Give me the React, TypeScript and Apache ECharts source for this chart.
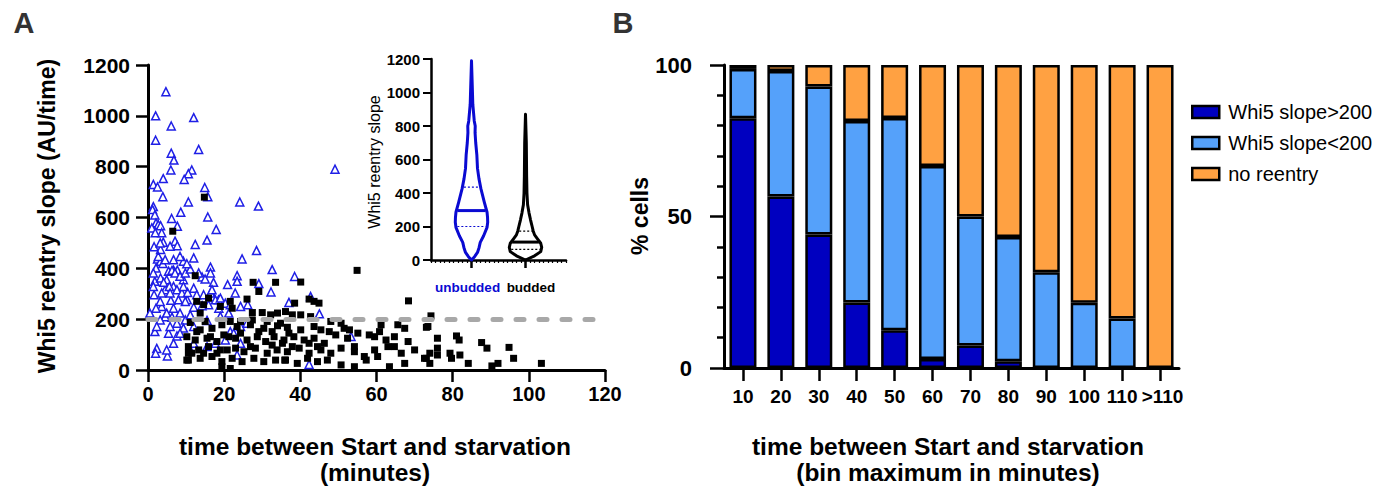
import React, { useEffect, useRef } from 'react';
import * as echarts from 'echarts';

const FONT = '"Liberation Sans", Arial, Helvetica, sans-serif';
const BLUE = '#1f1fe6';
const VIOLIN_BLUE = '#0a0ad2';

// ---- Panel A: scatter (minutes, slope) ----
const unbuddedPoints: [number, number][] = [
  [4.7,1095],[2.0,1000],[12.0,993],[6.1,960],[2.0,904],[13.3,868],[6.1,853],[6.8,826],[6.0,787],[11.5,787],
  [10.6,772],[9.5,750],[4.0,753],[1.4,730],[2.5,720],[14.9,718],[49.1,790],[15.7,682],[3.9,682],[24.1,661],
  [29.0,645],[10.6,661],[8.6,621],[1.4,643],[1.2,631],[1.8,610],[6.2,596],[15.7,602],[7.7,566],[2.1,579],
  [2.7,572],[3.3,568],[1.0,559],[3.6,540],[17.9,553],[15.5,511],[7.1,507],[7.7,489],[4.0,503],[12.4,494],
  [1.6,485],[3.3,474],[28.5,470],[12.0,441],[2.5,437],[3.3,428],[3.9,419],[24.7,437],[9.3,428],[2.1,401],
  [32.6,395],[16.4,405],[6.7,393],[5.4,389],[7.7,393],[38.5,368],[23.4,371],[1.8,349],[23.4,349],[29.1,340],
  [4.9,355],[9.3,355],[14.2,366],[17.2,345],[20.9,336],[6.7,329],[12.0,322],[4.5,316],[22.9,303],[32.3,307],
  [1.6,296],[10.3,276],[17.2,287],[18.5,276],[42.7,289],[26.2,257],[37.0,266],[3.6,250],[6.7,243],[0.5,224],
  [4.5,210],[9.8,197],[15.5,195],[1.8,151],[5.4,145],[7.6,134],[21.6,151],[24.3,105],[2.3,85],[5.1,55],
  [2.0,66],[23.4,59],[42.3,22],[45.0,221],[53.3,132],
  [6.3,392],[7.1,382],[8.4,369],[9.8,382],[11.1,397],[13.3,382],[15.0,358],[16.4,382],[3.3,362],[4.1,345],
  [5.6,329],[7.6,316],[8.9,303],[10.4,305],[12.8,296],[14.6,296],[16.4,303],[17.7,276],[19.0,283],[20.3,263],
  [15.9,257],[14.2,253],[12.0,247],[9.8,270],[8.0,276],[6.0,274],[3.2,270],[2.1,243],[4.9,224],[6.3,208],
  [3.2,197],[8.4,224],[11.1,217],[7.6,184],[5.8,171],[2.3,171],[9.3,165],[6.7,105],[4.9,79],[8.4,145],
  [12.0,171],[18.6,243],[21.6,257],[19.0,211],[21.2,224],[24.3,250],[1.9,540],[3.2,500],[5.8,487],[2.7,447],
  [4.5,434],[8.4,447],[10.2,418],[6.7,434],[5.8,303],[3.6,303],[9.3,329],[16.8,316],[1.4,382],[1.4,329],
  [20.3,118],[17.7,105],[22.5,145],[24.3,171],[26.0,184],[12.0,105],[15.5,92],[11.1,79]
];

const buddedPoints: [number, number][] = [
  [14.8,680],[6.5,546],
  [12.4,371],[54.9,392],[27.6,345],[33.5,345],[40.1,346],[29.1,309],[26.0,279],[38.5,263],
  [42.3,279],[44.9,263],[43.6,270],[68.4,272],[12.8,270],[15.9,283],[21.6,270],[22.1,243],[14.6,257],[19.0,250],
  [13.7,224],[27.4,226],[30.0,226],[32.2,217],[34.0,224],[36.1,230],[37.9,217],[40.1,217],[42.7,210],[11.1,187],
  [13.7,158],[16.8,164],[19.4,178],[23.4,171],[26.9,178],[30.4,164],[34.0,174],[36.6,168],[40.1,158],[43.6,171],
  [48.0,191],[50.7,184],[52.9,158],[61.2,178],[65.6,178],[67.4,164],[73.5,171],[10.2,131],[12.4,118],[15.5,125],
  [18.1,112],[21.2,131],[24.3,145],[26.0,118],[28.7,131],[30.9,112],[33.1,131],[35.7,118],[38.3,131],[41.0,118],
  [43.6,125],[46.3,105],[49.3,138],[52.4,125],[54.2,92],[59.5,131],[62.5,118],[64.7,92],[68.3,112],[70.0,79],
  [10.6,92],[13.3,79],[15.9,92],[19.0,79],[23.0,86],[25.2,72],[28.2,86],[31.3,66],[33.9,79],[36.6,72],
  [39.7,86],[42.3,66],[45.4,79],[48.0,66],[50.7,86],[54.2,72],[56.8,53],[59.5,79],[63.0,92],[66.5,66],
  [72.6,46],[10.6,39],[13.7,46],[16.8,53],[19.4,33],[22.1,46],[24.7,33],[27.8,46],[30.4,33],[33.5,39],
  [36.1,39],[39.2,26],[41.9,46],[44.5,33],[47.1,39],[50.7,20],[54.2,13],[57.3,39],[60.3,53],[63.4,13],
  [67.4,26],[35.9,39],[19.4,13],[21.6,6],[11.5,66],[14.6,66],[18.1,66],[20.8,79],[26.9,92],[32.6,98],
  [35.3,105],[37.9,92],[42.3,105],[44.5,92],[15.0,191],[21.6,191],[24.3,191],[27.4,197],[31.3,191],[34.8,184],
  [12.8,151],[16.4,131],[19.9,138],[23.0,125],[29.1,151],[32.6,151],[37.0,145],[45.4,158],[47.6,151],[51.5,164],
  [55.1,145],[58.1,138],[60.8,151],[64.7,131],[10.2,39],[10.6,66],
  [74.3,213],[73.1,168],[76.0,125],[76.0,86],[76.0,59],[74.0,66],[73.1,46],[74.0,26],[81.0,134],[81.7,118],
  [79.3,66],[79.7,46],[81.9,59],[84.1,26],[87.6,108],[89.0,86],[90.3,16],[91.9,26],[94.8,89],[96.0,46],[103.3,26]
];

const thresholdSlope = 200;
const thresholdEndMinutes = 118;

// ---- Inset violins ----
const violinCategories = ['', 'unbudded', '', 'budded', ''];
// [slope, relative half-width]
const unbuddedProfile: [number, number][] = [
  [0,0],[20,0.19],[45,0.37],[75,0.47],[105,0.54],[145,0.75],[195,0.96],[225,1.0],[255,0.99],[285,0.96],
  [345,0.79],[426,0.58],[486,0.46],[547,0.37],[627,0.33],[700,0.26],[760,0.22],[800,0.23],[830,0.17],
  [930,0.08],[1030,0.05],[1190,0]
];
const buddedProfile: [number, number][] = [
  [0,0],[25,0.56],[50,0.94],[75,1.0],[100,0.94],[125,0.75],[150,0.56],[175,0.47],[200,0.41],[240,0.31],
  [280,0.22],[330,0.13],[400,0.09],[500,0.07],[700,0.05],[870,0]
];
const unbuddedQuartiles = [200, 295, 435];
const buddedQuartiles = [63, 107, 172];

// ---- Panel B: stacked bars ----
const binLabels = ['10','20','30','40','50','60','70','80','90','100','110','>110'];
const slopeAbove200 = [82.4, 56.6, 44.1, 21.6, 12.5, 3, 7.4, 2.2, 0, 0, 0, 0];
const slopeBelow200 = [16.3, 41.4, 48.8, 59.9, 70, 63.7, 42.6, 41, 31.6, 21.5, 16.3, 0];
const noReentry = [1.3, 2, 7.1, 18.5, 17.5, 33.3, 50, 56.8, 68.4, 78.5, 83.7, 100];

const axisLine = { show: true, lineStyle: { color: '#000', width: 3 } };
const plain = (v: number) => String(v);

function widthAt(profile: [number, number][], v: number) {
  for (let i = 1; i < profile.length; i++) {
    const [v0, w0] = profile[i - 1];
    const [v1, w1] = profile[i];
    if (v >= v0 && v <= v1) return w0 + ((v - v0) / (v1 - v0)) * (w1 - w0);
  }
  return 0;
}

export default function App() {
  const ref = useRef<HTMLDivElement>(null);
  useEffect(() => {
    if (!ref.current) return;
    const chart = echarts.init(ref.current, undefined, { renderer: 'svg' });
    const boldLabel = (size: number, margin: number) => ({
      fontSize: size, fontWeight: 'bold', color: '#000', fontFamily: FONT, margin
    });
    const titleText = (text: string, x: number, y: number, size: number, rotate = false,
      weight = 'bold', fill = '#000') => ({
      type: 'text', x, y, rotation: rotate ? Math.PI / 2 : 0,
      style: { text, fill, font: `${weight} ${size}px ${FONT}`, align: 'center', verticalAlign: 'middle' }
    });

    const option: any = {
      animation: false,
      grid: [
        { left: 148, top: 65, width: 457, height: 305 },
        { left: 431, top: 59, width: 135, height: 201 },
        { left: 724, top: 65, width: 455, height: 303 }
      ],
      xAxis: [
        {
          type: 'value', gridIndex: 0, min: 0, max: 120, interval: 20,
          axisLine, axisTick: { show: true, length: 12, lineStyle: { width: 2.5, color: '#000' } },
          axisLabel: { ...boldLabel(20, 14), formatter: plain }, splitLine: { show: false }
        },
        {
          type: 'category', gridIndex: 1, data: violinCategories.map((c, i) => ({
            value: c,
            textStyle: {
              color: i === 1 ? VIOLIN_BLUE : '#000',
              padding: i === 1 ? [0, 8, 0, 0] : i === 3 ? [0, 0, 0, 11] : 0
            }
          })),
          boundaryGap: true, position: 'bottom',
          axisLine: { show: true, lineStyle: { color: '#000', width: 2.5 } },
          axisTick: { show: true, alignWithLabel: true, length: 8, lineStyle: { width: 2.5, color: '#000' },
            interval: (idx: number) => idx === 1 || idx === 3 },
          axisLabel: { ...boldLabel(13.5, 20), interval: 0 }
        },
        {
          type: 'value', gridIndex: 1, min: 0, max: 30, interval: 1, position: 'bottom',
          axisLine: { show: false }, axisLabel: { show: false }, splitLine: { show: false },
          axisTick: { show: true, length: 3, lineStyle: { width: 1.2, color: '#000' } }
        },
        {
          type: 'category', gridIndex: 2, boundaryGap: true,
          data: binLabels.map((b, i) => ({
            value: b,
            textStyle: { padding: i === binLabels.length - 1 ? [0, 0, 0, 5] : 0 }
          })),
          axisLine: { show: true, lineStyle: { color: '#000', width: 3 } },
          axisTick: { show: true, alignWithLabel: true, length: 13, lineStyle: { width: 2.5, color: '#000' } },
          axisLabel: { ...boldLabel(19, 19), interval: 0 }
        }
      ],
      yAxis: [
        {
          type: 'value', gridIndex: 0, min: 0, max: 1200, interval: 200,
          axisLine, axisTick: { show: true, length: 12, lineStyle: { width: 2.5, color: '#000' } },
          axisLabel: { ...boldLabel(21, 18), formatter: plain }, splitLine: { show: false }
        },
        {
          type: 'value', gridIndex: 1, min: 0, max: 1200, interval: 200,
          axisLine: { show: true, lineStyle: { color: '#000', width: 2.5 } },
          axisTick: { show: true, length: 8, lineStyle: { width: 2, color: '#000' } },
          axisLabel: { ...boldLabel(15, 11), formatter: plain }, splitLine: { show: false }
        },
        {
          type: 'value', gridIndex: 2, min: 0, max: 100, interval: 50,
          axisLine, axisTick: { show: true, length: 14, lineStyle: { width: 2.5, color: '#000' } },
          minorTick: { show: true, splitNumber: 5, length: 7, lineStyle: { width: 2.5, color: '#000' } },
          axisLabel: { ...boldLabel(22, 32), formatter: plain }, splitLine: { show: false }
        }
      ],
      legend: {
        data: ['Whi5 slope>200', 'Whi5 slope<200', 'no reentry'],
        orient: 'vertical', left: 1186, top: 97,
        itemWidth: 27, itemHeight: 12, itemGap: 11, icon: 'rect',
        itemStyle: { borderColor: '#000', borderWidth: 2.5 },
        textStyle: { fontSize: 20, color: '#000', fontFamily: FONT, padding: [0, 0, 0, 4] }
      },
      series: [
        {
          name: 'unbudded', type: 'scatter', xAxisIndex: 0, yAxisIndex: 0, z: 2,
          data: unbuddedPoints, symbol: 'triangle', symbolSize: 8,
          itemStyle: { color: '#fff', borderColor: BLUE, borderWidth: 1.5, opacity: 1 },
          markLine: {
            silent: true, symbol: 'none', label: { show: false },
            lineStyle: { color: '#a8a8a8', width: 5, type: [8, 15], cap: 'round', opacity: 1 },
            data: [[{ coord: [0, thresholdSlope] }, { coord: [thresholdEndMinutes, thresholdSlope] }]]
          }
        },
        {
          name: 'budded', type: 'scatter', xAxisIndex: 0, yAxisIndex: 0, z: 3,
          data: buddedPoints, symbol: 'rect', symbolSize: 7,
          itemStyle: { color: '#000', opacity: 1 }
        },
        {
          name: 'violins', type: 'custom', xAxisIndex: 1, yAxisIndex: 1,
          data: [[1, 0, 0], [3, 0, 1]],
          encode: { x: 0, y: 1 },
          renderItem: (params: any, api: any) => {
            const cat = api.value(0);
            const id = api.value(2);
            const prof = id === 0 ? unbuddedProfile : buddedProfile;
            const q = id === 0 ? unbuddedQuartiles : buddedQuartiles;
            const color = id === 0 ? VIOLIN_BLUE : '#000';
            const band = api.size([1, 0])[0];
            const maxHalf = band * 0.6;
            const left: number[][] = [];
            const right: number[][] = [];
            prof.forEach(([v, d]) => {
              const p = api.coord([cat, v]);
              left.push([p[0] - d * maxHalf, p[1]]);
              right.push([p[0] + d * maxHalf, p[1]]);
            });
            const pts = left.concat(right.reverse());
            const hline = (v: number, solid: boolean) => {
              const p = api.coord([cat, v]);
              const hw = widthAt(prof, v) * maxHalf - (solid ? 1 : 1.5);
              return {
                type: 'line',
                shape: { x1: p[0] - hw, y1: p[1], x2: p[0] + hw, y2: p[1] },
                style: solid
                  ? { stroke: color, lineWidth: 3 }
                  : { stroke: color, lineWidth: 1.2, lineDash: [2, 2] }
              };
            };
            return {
              type: 'group',
              children: [
                { type: 'polygon', shape: { points: pts },
                  style: { fill: 'none', stroke: color, lineWidth: 3, lineJoin: 'round' } },
                hline(q[0], false), hline(q[1], true), hline(q[2], false)
              ]
            };
          }
        },
        {
          name: 'Whi5 slope>200', type: 'bar', stack: 'total', xAxisIndex: 3, yAxisIndex: 2,
          data: slopeAbove200, barWidth: 27,
          itemStyle: { color: '#0000c0', borderColor: '#000', borderWidth: 2.5 }
        },
        {
          name: 'Whi5 slope<200', type: 'bar', stack: 'total', xAxisIndex: 3, yAxisIndex: 2,
          data: slopeBelow200, barWidth: 27,
          itemStyle: { color: '#55a1fa', borderColor: '#000', borderWidth: 2.5 }
        },
        {
          name: 'no reentry', type: 'bar', stack: 'total', xAxisIndex: 3, yAxisIndex: 2,
          data: noReentry, barWidth: 27,
          itemStyle: { color: '#ffa142', borderColor: '#000', borderWidth: 2.5 }
        }
      ],
      graphic: [
        titleText('A', 24, 23, 29, false, 'bold', '#333'),
        titleText('B', 623, 23, 29, false, 'bold', '#333'),
        titleText('Whi5 reentry slope (AU/time)', 47, 216, 23, true),
        titleText('time between Start and starvation', 375, 446, 24.5),
        titleText('(minutes)', 375, 472, 24.5),
        titleText('Whi5 reentry slope', 374, 162, 16, true, 'normal'),
        titleText('% cells', 640, 216, 23, true),
        titleText('time between Start and starvation', 948, 446, 24.5),
        titleText('(bin maximum in minutes)', 948, 472, 24.5)
      ]
    };
    chart.setOption(option);
    return () => chart.dispose();
  }, []);
  return (
    <div
      ref={ref}
      style={{ position: 'absolute', left: 0, top: 0, width: 1390, height: 488, background: '#fff' }}
    />
  );
}
